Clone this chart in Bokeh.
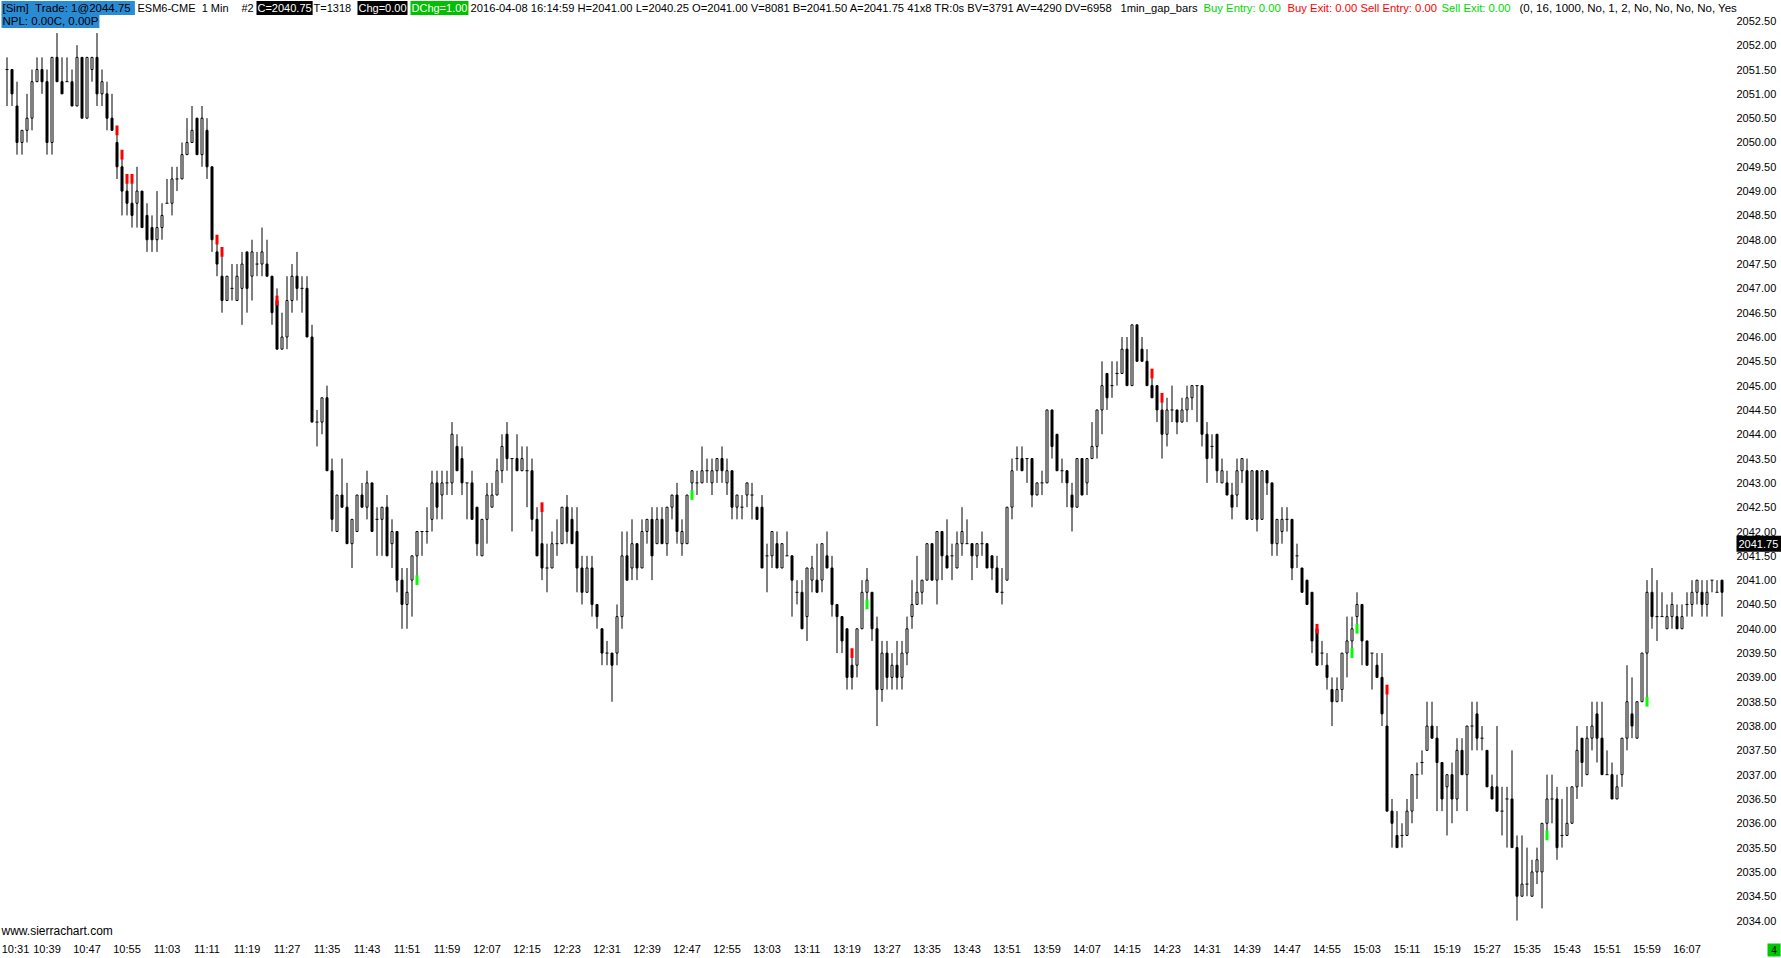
from bokeh.plotting import figure
from bokeh.models import ColumnDataSource, Range1d, Label
from bokeh.core.properties import value
from bokeh.embed import file_html
from bokeh.resources import INLINE

# ---------------- data (1-minute bars, ESM6-CME, 2016-04-08 10:31 .. 16:14) ----------------
OPEN = [
 2051.5,2051.5,2050.75,2050.0,2050.25,2050.5,2051.25,2051.5,2051.25,2050.0,
 2051.75,2051.25,2051.25,2051.25,2050.75,2051.75,2050.5,2051.5,2051.75,2051.0,
 2051.0,2050.5,2050.0,2049.5,2049.0,2048.75,2048.75,2049.0,2048.5,2048.25,
 2048.0,2048.25,2048.75,2048.75,2049.25,2049.25,2049.75,2050.0,2050.5,2049.75,
 2050.25,2049.5,2047.75,2047.25,2046.75,2047.0,2046.75,2047.0,2047.75,2047.25,
 2047.5,2047.5,2047.5,2047.25,2046.75,2045.75,2046.0,2046.75,2047.25,2047.0,
 2047.0,2046.0,2044.25,2044.25,2044.75,2043.25,2042.0,2042.75,2042.5,2041.75,
 2042.0,2042.75,2042.5,2043.0,2042.25,2042.25,2042.5,2041.75,2042.0,2041.0,
 2040.5,2041.0,2041.5,2042.0,2042.0,2042.25,2043.0,2042.75,2043.0,2043.0,
 2043.75,2043.5,2043.0,2043.0,2042.5,2041.5,2042.25,2042.5,2042.75,2043.25,
 2044.0,2043.5,2043.5,2043.25,2043.25,2043.25,2042.25,2041.75,2041.25,2041.25,
 2041.75,2041.75,2042.5,2042.25,2042.0,2041.25,2040.75,2041.25,2040.5,2040.0,
 2039.5,2039.5,2039.5,2040.25,2041.5,2041.25,2041.75,2041.25,2042.0,2042.25,
 2041.75,2042.25,2041.75,2042.5,2042.75,2041.75,2041.75,2043.0,2043.0,2043.0,
 2043.25,2043.0,2043.25,2043.5,2043.0,2043.25,2042.5,2042.5,2042.75,2042.75,
 2042.5,2042.5,2041.5,2041.5,2041.75,2041.25,2041.5,2041.5,2040.75,2040.75,
 2040.25,2041.0,2041.0,2041.0,2041.5,2041.25,2040.5,2040.25,2040.0,2039.25,
 2039.25,2040.0,2040.75,2040.75,2040.0,2038.75,2039.5,2039.0,2039.25,2039.0,
 2039.5,2040.25,2040.5,2040.75,2041.0,2041.75,2041.0,2042.0,2041.5,2041.5,
 2041.25,2041.75,2041.75,2041.75,2041.5,2041.75,2041.75,2041.5,2041.25,2040.75,
 2041.0,2042.5,2043.5,2043.5,2043.5,2043.5,2042.75,2043.0,2043.0,2044.5,
 2044.0,2043.25,2043.25,2042.75,2042.5,2043.5,2043.0,2043.5,2043.75,2044.5,
 2045.25,2045.0,2045.25,2045.25,2045.75,2045.0,2046.25,2045.75,2045.5,2045.0,
 2045.0,2044.5,2044.0,2044.5,2044.5,2044.25,2044.5,2044.75,2045.0,2045.0,
 2044.0,2043.75,2044.0,2043.0,2043.0,2042.75,2042.75,2043.25,2043.25,2042.25,
 2043.25,2042.25,2043.25,2043.0,2041.75,2042.0,2042.25,2042.25,2041.5,2041.25,
 2041.0,2040.75,2040.0,2039.5,2039.25,2038.75,2038.5,2038.75,2039.5,2039.75,
 2040.25,2040.5,2039.75,2039.5,2039.25,2039.0,2038.0,2036.25,2035.75,2035.75,
 2035.75,2036.25,2037.0,2037.25,2037.5,2038.0,2037.75,2037.25,2036.75,2037.0,
 2036.5,2037.5,2037.0,2038.0,2038.25,2037.75,2037.5,2036.75,2036.75,2036.25,
 2036.5,2036.5,2035.5,2034.5,2034.75,2034.5,2035.0,2035.0,2036.0,2036.5,
 2036.5,2035.75,2035.75,2036.0,2036.75,2037.75,2037.0,2037.75,2038.25,2037.75,
 2037.0,2037.0,2036.5,2037.0,2037.75,2038.25,2037.75,2038.5,2039.5,2040.75,
 2040.25,2040.25,2040.0,2040.25,2040.25,2040.0,2040.5,2040.5,2040.75,2040.75,
 2040.5,2041.0,2040.75,2041.0]
HIGH = [
 2051.75,2051.5,2051.25,2050.25,2051.0,2051.5,2051.75,2051.75,2051.5,2051.75,
 2052.25,2051.75,2051.75,2051.5,2052.0,2051.75,2051.75,2051.75,2052.25,2051.5,
 2051.25,2051.0,2050.25,2049.75,2049.25,2049.25,2049.5,2049.0,2048.75,2048.5,
 2049.0,2048.75,2049.25,2049.5,2049.5,2050.0,2050.5,2050.75,2050.5,2050.75,
 2050.5,2049.5,2048.0,2047.75,2047.25,2047.5,2047.5,2047.75,2047.75,2048.0,
 2047.75,2048.25,2048.0,2047.25,2047.0,2046.5,2047.25,2047.5,2047.75,2047.25,
 2047.25,2046.25,2044.5,2044.75,2045.0,2043.5,2042.75,2043.5,2043.0,2042.25,
 2042.75,2043.0,2043.25,2043.0,2042.5,2042.5,2042.75,2042.25,2042.0,2041.25,
 2041.25,2041.5,2042.0,2042.0,2042.5,2043.25,2043.25,2043.25,2043.25,2044.25,
 2044.0,2043.75,2043.0,2043.25,2042.5,2042.25,2043.0,2043.0,2043.5,2044.0,
 2044.25,2043.5,2044.0,2043.75,2043.75,2043.5,2042.5,2042.5,2041.75,2042.0,
 2042.25,2042.5,2042.75,2042.5,2042.5,2041.5,2041.5,2041.5,2040.5,2040.0,
 2039.75,2039.5,2040.5,2042.0,2042.0,2042.25,2041.75,2042.25,2042.25,2042.5,
 2042.5,2042.5,2042.5,2042.75,2043.0,2042.25,2042.75,2043.25,2043.25,2043.75,
 2043.5,2043.5,2043.5,2043.75,2043.5,2043.25,2042.75,2042.75,2043.0,2043.0,
 2042.5,2042.75,2041.75,2042.0,2042.0,2041.75,2042.0,2041.5,2041.0,2041.0,
 2041.25,2041.5,2041.75,2041.75,2042.0,2041.5,2040.5,2040.25,2040.0,2039.5,
 2040.0,2041.0,2041.25,2040.75,2040.25,2039.75,2039.75,2039.5,2039.75,2039.75,
 2040.25,2041.0,2041.5,2041.0,2041.75,2041.75,2042.0,2042.0,2042.25,2041.75,
 2042.0,2042.5,2042.25,2041.75,2041.75,2042.0,2041.75,2041.5,2041.5,2041.25,
 2042.5,2043.5,2043.75,2043.75,2043.5,2043.5,2043.0,2043.25,2044.5,2044.5,
 2044.0,2043.5,2043.25,2043.0,2043.5,2043.5,2043.5,2044.25,2044.5,2045.5,
 2045.25,2045.5,2045.5,2046.0,2046.0,2046.25,2046.25,2046.0,2045.75,2045.25,
 2045.0,2044.75,2044.75,2045.0,2044.5,2044.75,2045.0,2045.0,2045.0,2045.0,
 2044.25,2044.0,2044.0,2043.5,2043.25,2043.0,2043.5,2043.5,2043.5,2043.25,
 2043.25,2043.25,2043.25,2043.0,2042.25,2042.5,2042.5,2042.25,2041.75,2041.25,
 2041.0,2040.75,2040.0,2039.75,2039.5,2039.0,2039.0,2039.5,2040.25,2040.25,
 2040.75,2040.5,2039.75,2039.5,2039.5,2039.5,2038.75,2036.5,2036.25,2036.0,
 2036.5,2037.0,2037.25,2037.5,2038.5,2038.5,2038.0,2037.25,2037.0,2037.25,
 2037.75,2037.75,2038.0,2038.5,2038.5,2038.0,2037.5,2037.0,2038.0,2036.75,
 2036.75,2037.5,2035.75,2035.75,2035.5,2035.25,2035.5,2036.0,2037.0,2037.0,
 2036.75,2036.5,2036.75,2036.75,2038.0,2037.75,2038.0,2038.5,2038.5,2038.5,
 2037.5,2037.25,2037.0,2037.75,2039.25,2039.0,2038.5,2039.5,2041.0,2041.25,
 2041.0,2040.75,2040.5,2040.75,2040.5,2040.5,2040.75,2041.0,2041.0,2041.0,
 2041.0,2041.0,2041.0,2041.0]
LOW = [
 2050.75,2050.75,2049.75,2049.75,2050.0,2050.25,2051.25,2051.0,2049.75,2049.75,
 2051.25,2051.0,2051.25,2050.75,2050.75,2050.5,2050.5,2051.25,2050.75,2050.75,
 2050.25,2050.25,2049.25,2048.5,2048.5,2048.25,2048.25,2048.25,2047.75,2047.75,
 2047.75,2048.0,2048.75,2048.5,2049.0,2049.25,2049.75,2050.0,2049.75,2049.5,
 2049.25,2047.75,2047.25,2046.5,2046.75,2046.75,2046.75,2046.25,2046.5,2046.75,
 2047.25,2047.25,2047.25,2046.25,2045.75,2045.75,2045.75,2046.5,2046.75,2046.5,
 2046.0,2044.25,2043.75,2044.0,2043.25,2042.0,2042.0,2042.5,2041.75,2041.25,
 2042.0,2042.5,2042.25,2042.0,2041.5,2041.5,2041.5,2041.25,2040.75,2040.0,
 2040.0,2040.25,2041.0,2041.5,2041.75,2042.0,2042.25,2042.25,2042.75,2042.75,
 2043.25,2042.75,2042.25,2042.25,2041.5,2041.5,2041.75,2042.5,2042.75,2043.0,
 2043.25,2042.0,2043.25,2043.25,2042.5,2042.0,2041.5,2041.0,2040.75,2041.25,
 2041.5,2041.75,2041.75,2041.75,2040.75,2040.5,2040.75,2040.25,2040.0,2039.25,
 2039.25,2038.5,2039.25,2040.0,2041.0,2041.0,2041.0,2041.25,2041.75,2041.0,
 2041.75,2041.75,2041.5,2042.25,2041.75,2041.5,2041.75,2042.75,2042.75,2043.0,
 2043.0,2042.75,2043.0,2043.0,2042.75,2042.25,2042.25,2042.25,2042.5,2042.25,
 2042.25,2041.25,2040.75,2041.25,2041.25,2041.25,2041.5,2040.25,2040.5,2040.0,
 2039.75,2040.75,2040.75,2040.75,2041.25,2040.25,2039.5,2039.5,2038.75,2038.75,
 2039.0,2040.0,2040.5,2039.75,2038.0,2038.5,2038.75,2038.75,2038.75,2038.75,
 2039.25,2040.0,2040.5,2040.5,2041.0,2041.0,2040.5,2041.0,2041.25,2041.0,
 2041.25,2041.5,2041.75,2041.0,2041.25,2041.5,2041.25,2041.0,2040.75,2040.5,
 2041.0,2042.25,2043.25,2043.25,2043.0,2042.5,2042.75,2042.75,2043.0,2043.5,
 2043.25,2043.0,2042.5,2042.0,2042.5,2042.75,2042.75,2043.5,2043.5,2044.0,
 2044.5,2044.75,2045.0,2045.25,2045.0,2045.0,2045.5,2045.5,2045.0,2044.75,
 2044.25,2043.5,2043.75,2044.25,2044.0,2044.25,2044.25,2044.5,2044.25,2043.75,
 2043.0,2043.5,2043.0,2043.0,2042.75,2042.25,2042.5,2043.0,2042.25,2042.25,
 2042.0,2042.25,2042.75,2041.5,2041.5,2041.75,2042.0,2041.0,2041.25,2040.75,
 2040.5,2039.5,2039.25,2039.25,2038.75,2038.0,2038.5,2038.5,2039.0,2039.5,
 2040.0,2039.25,2039.25,2038.75,2039.0,2038.0,2036.25,2035.5,2035.5,2035.5,
 2035.75,2036.0,2036.5,2037.0,2037.5,2037.75,2036.25,2036.25,2035.75,2036.0,
 2036.25,2037.0,2036.25,2037.5,2037.5,2037.5,2036.75,2036.5,2036.25,2035.75,
 2035.5,2035.5,2034.0,2034.5,2034.5,2034.5,2034.75,2034.25,2035.75,2036.0,
 2035.25,2035.5,2035.75,2036.0,2036.5,2036.75,2037.0,2037.5,2037.25,2037.0,
 2037.0,2036.5,2036.5,2036.75,2037.5,2037.75,2037.75,2038.5,2038.5,2040.0,
 2039.75,2040.25,2040.0,2040.0,2040.0,2040.0,2040.25,2040.25,2040.5,2040.25,
 2040.25,2040.75,2040.75,2040.25]
CLOSE = [
 2051.5,2051.0,2050.0,2050.25,2050.5,2051.25,2051.5,2051.25,2050.0,2051.75,
 2051.25,2051.0,2051.25,2050.75,2051.75,2050.5,2051.75,2051.75,2051.0,2051.25,
 2050.5,2050.25,2049.5,2049.0,2048.75,2048.5,2049.0,2048.25,2048.0,2048.0,
 2048.25,2048.5,2048.75,2049.25,2049.25,2049.75,2050.0,2050.25,2049.75,2050.5,
 2049.5,2048.0,2047.5,2046.75,2047.25,2047.0,2047.25,2047.5,2047.0,2047.75,
 2047.5,2047.75,2047.25,2046.5,2045.75,2046.0,2046.75,2047.25,2047.0,2047.0,
 2046.0,2044.25,2044.25,2044.75,2043.25,2042.25,2042.75,2042.5,2041.75,2042.25,
 2042.75,2042.5,2043.0,2042.0,2042.25,2042.5,2041.5,2042.0,2041.0,2040.5,
 2040.75,2041.5,2042.0,2042.0,2042.0,2043.0,2042.5,2043.0,2043.0,2044.0,
 2043.25,2043.0,2043.0,2042.25,2041.75,2042.25,2042.75,2042.75,2043.25,2043.75,
 2043.5,2043.5,2043.25,2043.5,2043.25,2042.25,2041.5,2041.25,2041.25,2041.75,
 2041.75,2042.5,2042.0,2041.75,2041.25,2040.75,2041.25,2040.5,2040.25,2039.5,
 2039.5,2039.25,2040.25,2041.5,2041.0,2041.75,2041.25,2042.0,2042.25,2041.5,
 2042.25,2041.75,2042.5,2042.75,2042.0,2042.0,2042.75,2043.25,2043.0,2043.25,
 2043.25,2043.25,2043.5,2043.25,2043.25,2042.5,2042.75,2042.5,2043.0,2042.75,
 2042.25,2041.25,2041.5,2042.0,2041.25,2041.75,2041.5,2041.0,2040.75,2040.0,
 2041.25,2041.25,2040.75,2041.75,2041.25,2040.5,2040.25,2039.75,2039.0,2039.0,
 2040.0,2040.75,2041.0,2040.0,2038.75,2039.5,2039.0,2039.25,2039.0,2039.5,
 2040.0,2040.5,2040.75,2041.0,2041.75,2041.0,2042.0,2041.5,2041.25,2041.5,
 2041.75,2042.0,2041.75,2041.5,2041.75,2041.75,2041.25,2041.25,2040.75,2040.75,
 2042.5,2043.25,2043.5,2043.25,2043.5,2042.75,2043.0,2043.0,2044.5,2043.75,
 2043.25,2043.25,2043.0,2042.5,2043.5,2042.75,2043.5,2043.75,2044.5,2045.0,
 2044.75,2045.0,2045.25,2045.75,2045.0,2046.25,2045.5,2045.5,2045.0,2044.75,
 2044.5,2044.0,2044.5,2044.5,2044.25,2044.5,2044.75,2045.0,2045.0,2044.0,
 2043.5,2043.75,2043.25,2043.25,2042.75,2042.5,2043.25,2043.5,2042.25,2043.25,
 2042.25,2043.25,2043.0,2041.75,2042.25,2042.25,2042.25,2041.25,2041.5,2040.75,
 2040.5,2039.75,2039.25,2039.5,2039.0,2038.5,2038.75,2039.5,2039.75,2040.0,
 2040.5,2039.75,2039.25,2039.5,2039.0,2038.25,2036.25,2036.0,2035.5,2035.75,
 2036.25,2037.0,2037.0,2037.25,2038.0,2037.75,2037.25,2036.5,2037.0,2036.5,
 2037.5,2037.0,2038.0,2038.0,2037.75,2037.75,2036.75,2036.5,2036.25,2036.25,
 2036.5,2035.5,2034.5,2034.75,2034.75,2035.0,2035.25,2036.0,2036.5,2036.5,
 2035.5,2035.75,2036.0,2036.75,2037.5,2037.25,2037.75,2038.0,2037.75,2037.0,
 2037.0,2036.5,2036.75,2037.75,2038.5,2038.0,2038.5,2039.5,2040.75,2040.25,
 2040.25,2040.25,2040.25,2040.5,2040.0,2040.25,2040.5,2040.75,2041.0,2040.5,
 2040.75,2041.0,2040.75,2040.75]

# study highlight marks (bar index, price)
RED_BAR = [22, 23, 24, 25, 42, 43, 54, 107, 169, 229, 231, 262, 276]
RED_PRICE = [2050.25, 2049.75, 2049.25, 2049.25, 2048.0, 2047.75, 2046.75, 2042.5,
             2039.5, 2045.25, 2044.75, 2040.0, 2038.75]
GREEN_BAR = [82, 137, 172, 269, 270, 308, 328]
GREEN_PRICE = [2041.0, 2042.75, 2040.5, 2039.5, 2040.0, 2035.75, 2038.5]

TIME_LABELS = ["10:31", "10:39", "10:47", "10:55", "11:03", "11:11", "11:19", "11:27",
               "11:35", "11:43", "11:51", "11:59", "12:07", "12:15", "12:23", "12:31",
               "12:39", "12:47", "12:55", "13:03", "13:11", "13:19", "13:27", "13:35",
               "13:43", "13:51", "13:59", "14:07", "14:15", "14:23", "14:31", "14:39",
               "14:47", "14:55", "15:03", "15:11", "15:19", "15:27", "15:35", "15:43",
               "15:51", "15:59", "16:07"]
TIME_LABEL_BAR = [8 * k for k in range(len(TIME_LABELS))]
PRICE_TICKS = [2034.0, 2034.5, 2035.0, 2035.5, 2036.0, 2036.5, 2037.0, 2037.5, 2038.0,
               2038.5, 2039.0, 2039.5, 2040.0, 2040.5, 2041.0, 2041.5, 2042.0, 2042.5,
               2043.0, 2043.5, 2044.0, 2044.5, 2045.0, 2045.5, 2046.0, 2046.5, 2047.0,
               2047.5, 2048.0, 2048.5, 2049.0, 2049.5, 2050.0, 2050.5, 2051.0, 2051.5,
               2052.0, 2052.5]
LAST_PRICE = 2041.75

# ---------------- layout ----------------
W, H = 1781, 958
BAR_PX = 5.0            # pixels per 1-minute bar
PX_PER_PT = 48.63       # pixels per index point
X0 = -1.3               # bar centres land on pixel centres (crisp 1px wicks)
X1 = X0 + W / BAR_PX
Y1 = 2052.5 + 20.4 / PX_PER_PT
Y0 = Y1 - H / PX_PER_PT
FONT = "Liberation Sans"

def px_to_x(px):
    return X0 + px / BAR_PX

def py_to_y(py):
    return Y1 - py / PX_PER_PT

p = figure(frame_width=W, frame_height=H,
           x_range=Range1d(X0, X1), y_range=Range1d(Y0, Y1),
           output_backend="svg", toolbar_location=None,
           x_axis_location=None, y_axis_location=None,
           min_border=0, min_border_left=0, min_border_right=0,
           min_border_top=0, min_border_bottom=0,
           background_fill_color="white", border_fill_color="white", outline_line_color=None)
p.grid.visible = False

# ---------------- candles ----------------
n = len(OPEN)
idx = list(range(n))
up = [i for i in idx if CLOSE[i] > OPEN[i]]
dn = [i for i in idx if CLOSE[i] < OPEN[i]]
dj = [i for i in idx if CLOSE[i] == OPEN[i]]

p.segment(x0=idx, y0=LOW, x1=idx, y1=HIGH, line_color="black", line_width=1)
src_up = ColumnDataSource(dict(x=up, top=[CLOSE[i] for i in up], bottom=[OPEN[i] for i in up]))
src_dn = ColumnDataSource(dict(x=dn, top=[OPEN[i] for i in dn], bottom=[CLOSE[i] for i in dn]))
p.vbar(x="x", top="top", bottom="bottom", width=0.4, source=src_up,
       fill_color="white", line_color="black", line_width=1)
p.vbar(x="x", top="top", bottom="bottom", width=0.4, source=src_dn,
       fill_color="black", line_color="black", line_width=1)
p.segment(x0=[i - 0.3 for i in dj], y0=[CLOSE[i] for i in dj],
          x1=[i + 0.3 for i in dj], y1=[CLOSE[i] for i in dj],
          line_color="black", line_width=1)

p.rect(x=RED_BAR, y=RED_PRICE, width=0.6, height=0.2, fill_color="#FF0000", line_color=None)
p.rect(x=GREEN_BAR, y=GREEN_PRICE, width=0.6, height=0.2, fill_color="#00FF00", line_color=None)

# ---------------- price scale (right) and time scale (bottom) ----------------
p.text(x=[px_to_x(1736)] * len(PRICE_TICKS), y=PRICE_TICKS,
       text=["%.2f" % v for v in PRICE_TICKS], text_font=value(FONT),
       text_font_size=value("11px"), text_color="black",
       text_align="left", text_baseline="middle")
# keep the first time label inside the picture
time_x = [max(b, px_to_x(15)) for b in TIME_LABEL_BAR]
p.text(x=time_x, y=[py_to_y(948)] * len(TIME_LABELS), text=TIME_LABELS,
       text_font=value(FONT), text_font_size=value("11px"), text_color="black",
       text_align="center", text_baseline="middle")

# ---------------- header / annotations ----------------
NB = "\u00a0"
LINE1 = [
    (1, "[Sim]" + NB * 2 + "Trade:" + NB + "1@2044.75" + NB, "black", "#2A8BD5", "11.5px"),
    (137, "ESM6-CME" + NB * 2 + "1" + NB + "Min", "black", None, "11px"),
    (241, "#2", "black", None, "11px"),
    (256, "C=2040.75", "white", "black", "11px"),
    (313, "T=1318", "black", None, "11px"),
    (357, "Chg=0.00", "white", "black", "11px"),
    (410, "DChg=1.00", "white", "#00C000", "11px"),
    (470, "2016-04-08 16:14:59 H=2041.00 L=2040.25 O=2041.00 V=8081 B=2041.50 A=2041.75 41x8 TR:0s BV=3791 AV=4290 DV=6958", "black", None, "11.2px"),
    (1120, "1min_gap_bars", "black", None, "11.2px"),
    (1203, "Buy Entry: 0.00", "#00D800", None, "11.3px"),
    (1287, "Buy Exit: 0.00", "#FF0000", None, "11.3px"),
    (1360, "Sell Entry: 0.00", "#FF0000", None, "11.3px"),
    (1441, "Sell Exit: 0.00", "#00D800", None, "11.3px"),
    (1519, "(0, 16, 1000, No, 1, 2, No, No, No, No, Yes", "black", None, "11.5px"),
]
for px, txt, col, bg, fs in LINE1:
    kw = dict(background_fill_color=bg, padding=1) if bg else {}
    p.add_layout(Label(x=px_to_x(px), y=py_to_y(7.5), text=txt, text_color=col, text_font=FONT,
                       text_font_size=fs, text_baseline="middle", text_align="left", **kw))
p.add_layout(Label(x=px_to_x(1), y=py_to_y(20.5), text="NPL:" + NB + "0.00C," + NB + "0.00P",
                   text_color="black", text_font=FONT, text_font_size="11.5px",
                   text_baseline="middle", text_align="left",
                   background_fill_color="#2A8BD5", padding=1))
p.add_layout(Label(x=px_to_x(1), y=py_to_y(930), text="www.sierrachart.com", text_color="black",
                   text_font=FONT, text_font_size="12px", text_baseline="middle", text_align="left"))
p.add_layout(Label(x=px_to_x(1736), y=LAST_PRICE, text="2041.75" + NB, text_color="white",
                   text_font=FONT, text_font_size="11px", text_baseline="middle", text_align="left",
                   background_fill_color="black", padding=2))
p.add_layout(Label(x=px_to_x(1767), y=py_to_y(949.5), text=NB + "4" + NB, text_color="black",
                   text_font=FONT, text_font_size="10px", text_baseline="middle", text_align="left",
                   background_fill_color="#00C800", padding=1))

open("out.html", "w").write(file_html(p, INLINE))
